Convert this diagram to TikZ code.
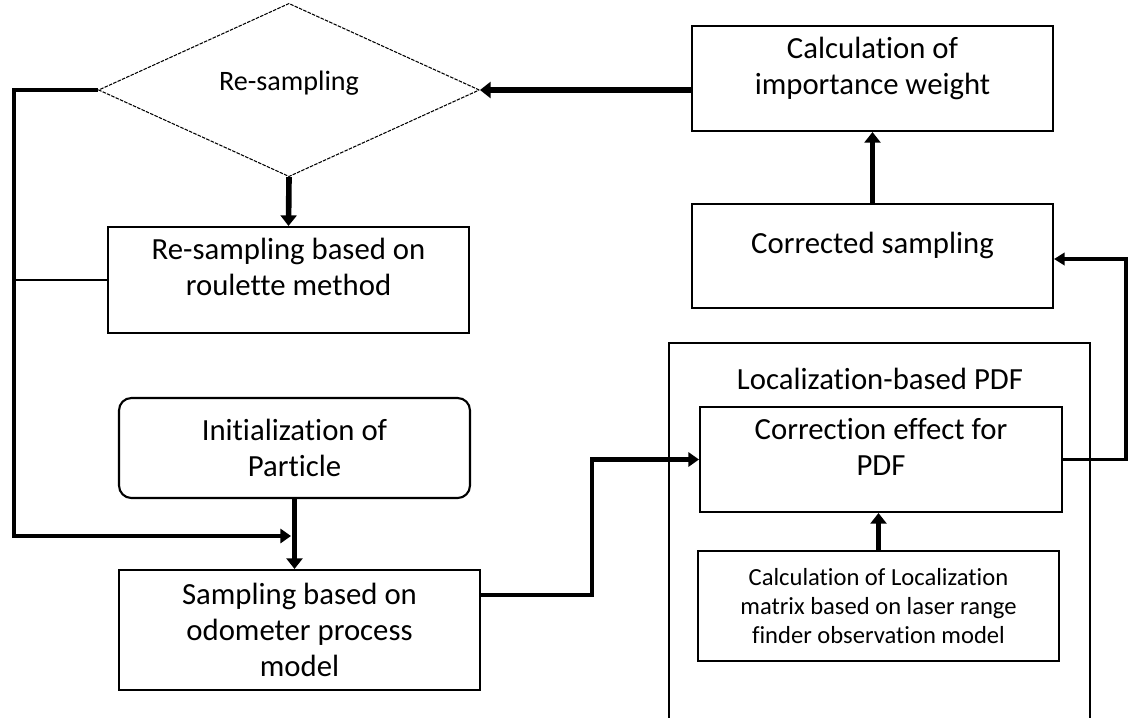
\documentclass[tikz,border=0pt]{standalone}
\usepackage{fontspec}
\setmainfont[Ligatures=NoCommon]{Carlito}
\usetikzlibrary{shapes.geometric,arrows.meta}
\newcommand{\liftby}[2]{\raisebox{#1}[\height][\depth]{\begin{tabular}{@{}c@{}}#2\end{tabular}}}
\begin{document}
\begin{tikzpicture}[x=0.02cm,y=-0.02cm,
  box/.style={draw,line width=1.2pt,minimum width=7.22cm,align=center,font=\fontsize{17.5}{20.5}\selectfont},
  decision/.style={diamond,draw,line width=0.6pt,dash pattern=on 2pt off 0.7pt,minimum width=7.62cm,minimum height=3.2cm,inner sep=0pt,font=\fontsize{16}{19}\selectfont},
  flow/.style={line width=3.2pt,-{Triangle[length=6pt,width=9pt]}},
  midflow/.style={line width=2.8pt,-{Triangle[length=6pt,width=8pt]}},
  thinflow/.style={line width=1.8pt,-{Triangle[length=6pt,width=7pt]}},
  loopline/.style={line width=2.6pt,-{Triangle[length=6pt,width=8pt]}},
  link/.style={line width=1.7pt}]
\clip (0,0) rectangle (1129,717);
\node[decision] (res) at (289,90) {\liftby{3.5pt}{Re-sampling}};
\node[box,minimum height=2.1cm] (imp) at (872.5,78.5) {\liftby{5pt}{Calculation of\\importance weight}};
\node[box,minimum height=2.08cm] (corr) at (872.5,256) {\liftby{5.5pt}{Corrected sampling}};
\node[box,minimum height=2.12cm] (roul) at (288.5,280) {\liftby{5.5pt}{Re-sampling based on\\roulette method}};
\node[box,rounded corners=7pt,minimum width=7.02cm,minimum height=2cm] (init) at (294.5,448) {Initialization of\\Particle};
\node[box,minimum height=2.4cm] (samp) at (299.5,630) {Sampling based on\\odometer process\\model};
\node[box,minimum width=8.42cm,minimum height=7.64cm] (locbox) at (879.5,534) {};
\node[font=\fontsize{17.5}{20.5}\selectfont] (loctitle) at (880,379) {Localization-based PDF};
\node[box,minimum width=7.24cm,minimum height=2.1cm] (effect) at (881,459.5) {\liftby{5pt}{Correction effect for\\PDF}};
\node[box,minimum height=2.2cm,font=\fontsize{14}{16.5}\selectfont] (calc) at (878.5,606) {Calculation of Localization\\matrix based on laser range\\finder observation model};
\coordinate (lcorner) at (14,536);
\coordinate (ljoin) at (291,536);
\coordinate (bend) at (592,595);
\coordinate (rturn) at (1126,259);
\draw[flow] (res.east -| imp.west) -- (res.east);
\draw[flow] (corr.north) -- (imp.south);
\draw[flow] (res.south) -- (roul.north);
\draw[link] (roul.west) -- (roul.west -| lcorner);
\draw[loopline] (res.west) -| (lcorner) -- (ljoin);
\draw[flow] (init.south) -- (init.south |- samp.north);
\draw[midflow] (bend -| samp.east) -- (bend) |- (effect.west);
\draw[thinflow] (effect.east) -| (rturn) -- (rturn -| corr.east);
\draw[flow] (calc.north) -- (calc.north |- effect.south);
\end{tikzpicture}
\end{document}
